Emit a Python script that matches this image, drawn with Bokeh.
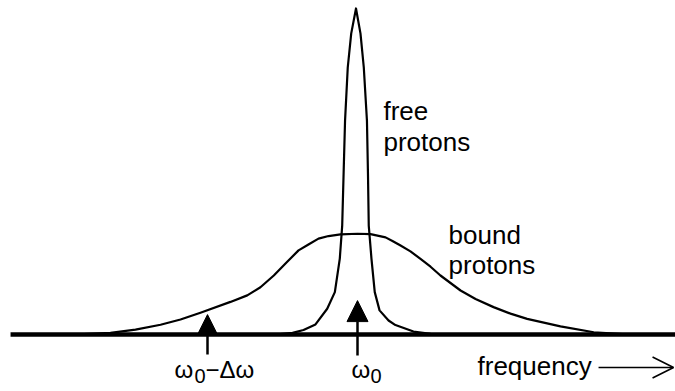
from bokeh.plotting import figure
from bokeh.models import Range1d, Arrow, NormalHead, OpenHead
from bokeh.core.properties import value
from bokeh.embed import file_html
from bokeh.resources import INLINE

# Frequency offset from the free-water resonance, in units of the saturation offset
# (0 = omega_0, -1 = omega_0 - delta omega). Signal is normalised to the free-proton peak.
free_freq = [-0.547, -0.433, -0.360, -0.280, -0.202, -0.151, -0.118, -0.102, -0.093,
             -0.083, -0.065, -0.042, -0.010, 0.020, 0.042, 0.063, 0.070, 0.075,
             0.093, 0.115, 0.147, 0.207, 0.253, 0.373, 0.487, 0.587]
free_signal = [0.000, 0.005, 0.014, 0.031, 0.079, 0.130, 0.233, 0.334, 0.488,
               0.656, 0.819, 0.923, 1.000, 0.923, 0.819, 0.656, 0.488, 0.334,
               0.233, 0.130, 0.074, 0.043, 0.029, 0.009, 0.002, 0.000]

bound_freq = [-1.893, -1.647, -1.480, -1.313, -1.180, -1.047, -0.847, -0.735, -0.647,
              -0.558, -0.480, -0.393, -0.327, -0.260, -0.193, -0.113, 0.000, 0.087,
              0.187, 0.233, 0.287, 0.353, 0.420, 0.487, 0.553, 0.620, 0.687, 0.787,
              0.907, 1.020, 1.131, 1.353, 1.575, 1.820]
bound_signal = [0.000, 0.005, 0.015, 0.030, 0.046, 0.067, 0.100, 0.120, 0.145,
                0.181, 0.218, 0.258, 0.276, 0.294, 0.302, 0.307, 0.309, 0.308,
                0.298, 0.287, 0.273, 0.255, 0.232, 0.208, 0.181, 0.158, 0.135, 0.109,
                0.084, 0.064, 0.048, 0.025, 0.007, 0.000]

# Irradiation frequencies marked with arrows
marker_freq = [-1.0, 0.0]

FONT = value("Liberation Sans")
INK = "black"

p = figure(width=675, height=391,
           x_range=Range1d(-2.38, 2.12), y_range=Range1d(-0.1748, 1.0245),
           x_axis_type=None, y_axis_type=None,
           output_backend="svg", toolbar_location=None,
           min_border=0, outline_line_color=None,
           background_fill_color="white", border_fill_color="white")
p.grid.visible = False

# frequency axis drawn as a heavy baseline
p.line([-2.313, 2.12], [0, 0], line_color=INK, line_width=4.5)

# spectral lines
p.line(bound_freq, bound_signal, line_color=INK, line_width=2.2, line_join="round")
p.line(free_freq, free_signal, line_color=INK, line_width=2.2, line_join="round")

# arrows at the two irradiation frequencies
p.add_layout(Arrow(x_start=marker_freq[0], y_start=-0.061, x_end=marker_freq[0], y_end=0.061,
                   line_width=2.5, line_color=INK,
                   end=NormalHead(size=20, fill_color=INK, line_color=INK, line_width=1)))
p.add_layout(Arrow(x_start=marker_freq[1], y_start=-0.064, x_end=marker_freq[1], y_end=0.104,
                   line_width=2.5, line_color=INK,
                   end=NormalHead(size=21, fill_color=INK, line_color=INK, line_width=1)))

# axis direction arrow
p.add_layout(Arrow(x_start=1.607, y_start=-0.101, x_end=2.107, y_end=-0.101,
                   line_width=1.6, line_color=INK,
                   end=OpenHead(size=21, line_color=INK, line_width=1.6)))

# curve and axis labels
p.text(x=[0.173, 0.173, 0.607, 0.607, 0.80],
       y=[0.687, 0.592, 0.305, 0.213, -0.098],
       text=["free", "protons", "bound", "protons", "frequency"],
       text_font=FONT, text_font_size="26px", text_color=INK,
       text_align="left", text_baseline="alphabetic")

# omega labels under the arrows, with subscript zeros
p.text(x=[marker_freq[0], marker_freq[0], marker_freq[1]],
       y=[-0.108, -0.108, -0.108],
       x_offset=[-33, -2, -6],
       text=["\u03c9", "\u2212\u0394\u03c9", "\u03c9"],
       text_font=FONT, text_font_size="24px", text_color=INK,
       text_align="left", text_baseline="alphabetic")
p.text(x=[marker_freq[0], marker_freq[1]],
       y=[-0.128, -0.128],
       x_offset=[-13, 13],
       text=["0", "0"],
       text_font=FONT, text_font_size="20px", text_color=INK,
       text_align="left", text_baseline="alphabetic")

open("out.html", "w").write(file_html(p, INLINE))
